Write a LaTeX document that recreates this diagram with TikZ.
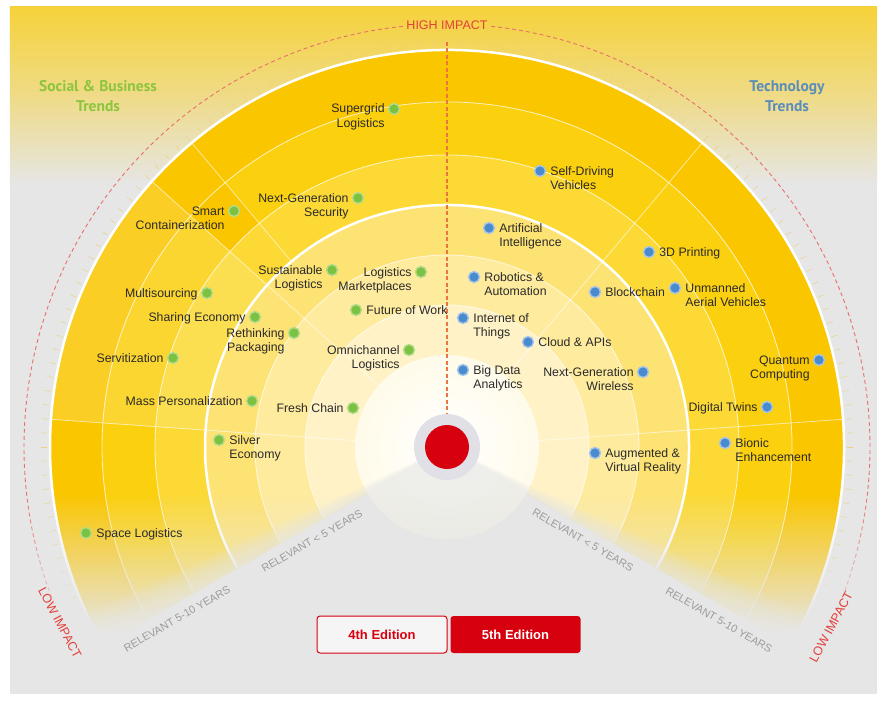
\documentclass[tikz,border=0pt]{standalone}
\usepackage{fontspec}
\setmainfont{Liberation Sans}
\newfontfamily\headfont{PT Sans}
\usetikzlibrary{positioning}

\definecolor{bggray}{HTML}{E6E6E6}
\definecolor{topyellow}{HTML}{F6D23A}
\definecolor{ringA}{HTML}{FAC600}
\definecolor{ringB}{HTML}{FBD00E}
\definecolor{ringC}{HTML}{FCD935}
\definecolor{ringD}{HTML}{FDE274}
\definecolor{ringE}{HTML}{FEEB9E}
\definecolor{ringF}{HTML}{FFF2C6}
\definecolor{glow}{HTML}{FFFBEA}
\definecolor{hubgray}{HTML}{E0E0E6}
\definecolor{dhlred}{HTML}{D7000F}
\definecolor{impactred}{HTML}{E2403B}
\definecolor{axisorange}{HTML}{EB7440}
\definecolor{tickcol}{HTML}{EAD184}
\definecolor{dotgreen}{HTML}{7CC242}
\definecolor{halogreen}{HTML}{B4DC8A}
\definecolor{dotblue}{HTML}{4A8BD0}
\definecolor{haloblue}{HTML}{A8C6E8}
\definecolor{headgreen}{HTML}{8DC53E}
\definecolor{headblue}{HTML}{5B8DBB}
\definecolor{relgray}{HTML}{9B9B9B}
\definecolor{labeltext}{HTML}{2A2A2A}

\begin{document}
\begin{tikzpicture}[x=1pt,y=1pt]
\tikzstyle{every node}+=[inner sep=0pt]
\tikzstyle{gdot}=[circle,fill=dotgreen,draw=halogreen,line width=1.4pt,minimum size=11pt]
\tikzstyle{bdot}=[circle,fill=dotblue,draw=haloblue,line width=1.4pt,minimum size=11pt]
\tikzstyle{lbl}=[font=\fontsize{12.3}{14.5}\selectfont,text=labeltext]
\tikzstyle{lblL}=[lbl,anchor=base east,align=right,xshift=-3pt,yshift=-4pt]
\tikzstyle{lblR}=[lbl,anchor=base west,align=left,xshift=4pt,yshift=-4pt]
\tikzstyle{twoline}=[yshift=-14.5pt]
\tikzstyle{relev}=[font=\fontsize{10.8}{12}\selectfont,text=relgray]
\tikzstyle{impact}=[font=\fontsize{12.5}{14}\selectfont,text=impactred]
\tikzstyle{edition}=[rounded corners=3pt,minimum width=130pt,minimum height=37pt,font=\fontsize{13}{15}\selectfont\bfseries]
\useasboundingbox (-447,-255) rectangle (435,447);

% page and panel
\fill [white] (-447,-255) rectangle (435,447);
\fill [bggray] (-437,-247) rectangle (430,440);
\shade [top color=topyellow,bottom color=bggray,middle color=topyellow!55!bggray] (-437,262) rectangle (430,440);

% rings, outside in
\foreach \r/\c in {397/ringA,345/ringB,292/ringC,242/ringD,192/ringE,142/ringF}
  \fill [\c] (0,0) -- (-30:\r) arc (-30:210:\r) -- cycle;
\fill [ringA] (130:292) arc (130:138:292) -- (138:345) arc (138:130:345) -- cycle;
\fill [white,opacity=0.14] (138:242) arc (138:176:242) -- (176:397) arc (176:138:397) -- cycle;
\shade [inner color=white,outer color=glow] (0,0) circle (92);
\foreach \r in {142,192,292,345}
  \draw [white,opacity=0.75,line width=0.8pt] (-30:\r) arc (-30:210:\r);
\foreach \r in {242,397}
  \draw [white,line width=2.5pt] (-30:\r) arc (-30:210:\r);
\foreach \a/\ri in {138/92,176/92,130/242,50/92,4/92}
  \draw [white,opacity=0.6,line width=0.8pt] (\a:\ri) -- (\a:397);

% soft lower edges of the fan
\begin{scope}
\clip (-437,-200) rectangle (430,440);
\foreach \k in {1,...,5}
  \fill [bggray,opacity=0.16] (0,0) -- ({210-\k}:400) arc ({210-\k}:{330+\k}:400) -- cycle;
\end{scope}

% scale ticks and impact arc
\foreach \a in {-30,-28,...,210}
  \draw [tickcol,line width=0.5pt] (\a:400) -- (\a:406);
\draw [impactred!75,dash pattern=on 4pt off 3pt,line width=0.9pt] (96:423) arc (96:208:423);
\draw [impactred!75,dash pattern=on 4pt off 3pt,line width=0.9pt] (84:423) arc (84:-28:423);

% hub
\node [circle,fill=hubgray,minimum size=66pt] (hubring) at (0,0) {};
\node [circle,fill=dhlred,minimum size=44pt] (hub) at (0,0) {};
\coordinate (axistop) at (0,405);
\draw [axisorange,dash pattern=on 4pt off 2.5pt,line width=1.2pt] (axistop) -- (hubring.north);

% lower part fades out
\foreach \i [evaluate=\i as \op using \i/35] in {0,...,35}
  \fill [bggray,opacity=\op] (-437,{-45-4*\i}) rectangle (430,{-49.2-4*\i});
\fill [bggray] (-437,-189) rectangle (430,-247);

% social & business trends
\node [gdot] (sg) at (-53,338) {};
\node [lblL,twoline] (sg-t) at (sg.west) {Supergrid\\Logistics};
\node [gdot] (ngs) at (-89,249) {};
\node [lblL,twoline] (ngs-t) at (ngs.west) {Next-Generation\\Security};
\node [gdot] (sc) at (-213,236) {};
\node [lblL,twoline] (sc-t) at (sc.west) {Smart\\Containerization};
\node [gdot] (sl) at (-115,177) {};
\node [lblL,twoline] (sl-t) at (sl.west) {Sustainable\\Logistics};
\node [gdot] (lm) at (-26,175) {};
\node [lblL,twoline] (lm-t) at (lm.west) {Logistics\\Marketplaces};
\node [gdot] (ms) at (-240,154) {};
\node [lblL] (ms-t) at (ms.west) {Multisourcing};
\node [gdot] (fw) at (-91,137) {};
\node [lblR] (fw-t) at (fw.east) {Future of Work};
\node [gdot] (se) at (-192,130) {};
\node [lblL] (se-t) at (se.west) {Sharing Economy};
\node [gdot] (rp) at (-153,114) {};
\node [lblL,twoline] (rp-t) at (rp.west) {Rethinking\\Packaging};
\node [gdot] (sv) at (-274,89) {};
\node [lblL] (sv-t) at (sv.west) {Servitization};
\node [gdot] (ol) at (-38,97) {};
\node [lblL,twoline] (ol-t) at (ol.west) {Omnichannel\\Logistics};
\node [gdot] (mp) at (-195,46) {};
\node [lblL] (mp-t) at (mp.west) {Mass Personalization};
\node [gdot] (fc) at (-94,39) {};
\node [lblL] (fc-t) at (fc.west) {Fresh Chain};
\node [gdot] (si) at (-228,7) {};
\node [lblR,twoline] (si-t) at (si.east) {Silver\\Economy};
\node [gdot] (spl) at (-361,-86) {};
\node [lblR] (spl-t) at (spl.east) {Space Logistics};

% technology trends
\node [bdot] (sd) at (93,276) {};
\node [lblR,twoline] (sd-t) at (sd.east) {Self-Driving\\Vehicles};
\node [bdot] (ai) at (42,219) {};
\node [lblR,twoline] (ai-t) at (ai.east) {Artificial\\Intelligence};
\node [bdot] (tdp) at (202,195) {};
\node [lblR] (tdp-t) at (tdp.east) {3D Printing};
\node [bdot] (ra) at (27,170) {};
\node [lblR,twoline] (ra-t) at (ra.east) {Robotics \&\\Automation};
\node [bdot] (bc) at (148,155) {};
\node [lblR] (bc-t) at (bc.east) {Blockchain};
\node [bdot] (uav) at (228,159) {};
\node [lblR,twoline] (uav-t) at (uav.east) {Unmanned\\Aerial Vehicles};
\node [bdot] (iot) at (16,129) {};
\node [lblR,twoline] (iot-t) at (iot.east) {Internet of\\Things};
\node [bdot] (ca) at (81,105) {};
\node [lblR] (ca-t) at (ca.east) {Cloud \& APIs};
\node [bdot] (bd) at (16,77) {};
\node [lblR,twoline] (bd-t) at (bd.east) {Big Data\\Analytics};
\node [bdot] (ngw) at (196,75) {};
\node [lblL,twoline] (ngw-t) at (ngw.west) {Next-Generation\\Wireless};
\node [bdot] (qc) at (372,87) {};
\node [lblL,twoline] (qc-t) at (qc.west) {Quantum\\Computing};
\node [bdot] (dt) at (320,40) {};
\node [lblL] (dt-t) at (dt.west) {Digital Twins};
\node [bdot] (be) at (278,4) {};
\node [lblR,twoline] (be-t) at (be.east) {Bionic\\Enhancement};
\node [bdot] (ar) at (148,-6) {};
\node [lblR,twoline] (ar-t) at (ar.east) {Augmented \&\\Virtual Reality};

% headings and axis texts
\node [align=center,text=headgreen,font=\headfont\bfseries\fontsize{15.5}{20}\selectfont] (socialhead) at (-349,351) {Social \& Business\\Trends};
\node [align=center,text=headblue,font=\headfont\bfseries\fontsize{15.5}{20}\selectfont] (techhead) at (340,351) {Technology\\Trends};
\node [impact] (highimp) at (0,422) {HIGH IMPACT};
\node [impact,rotate=-62] (lowimpL) at (-387,-176) {LOW IMPACT};
\node [impact,rotate=62] (lowimpR) at (384,-180) {LOW IMPACT};
\node [relev,rotate=30] (nearL) at (-135,-94) {RELEVANT < 5 YEARS};
\node [relev,rotate=-30] (nearR) at (136,-93) {RELEVANT < 5 YEARS};
\node [relev,rotate=30] (farL) at (-270,-172) {RELEVANT 5-10 YEARS};
\node [relev,rotate=-30] (farR) at (272,-173) {RELEVANT 5-10 YEARS};

% edition buttons
\node [edition,draw=dhlred,line width=1pt,fill=bggray!40!white,text=dhlred] (ed4) at (-65,-187.5) {4th Edition};
\node [edition,fill=dhlred,text=white] (ed5) at (68.5,-187.5) {5th Edition};
\end{tikzpicture}
\end{document}
